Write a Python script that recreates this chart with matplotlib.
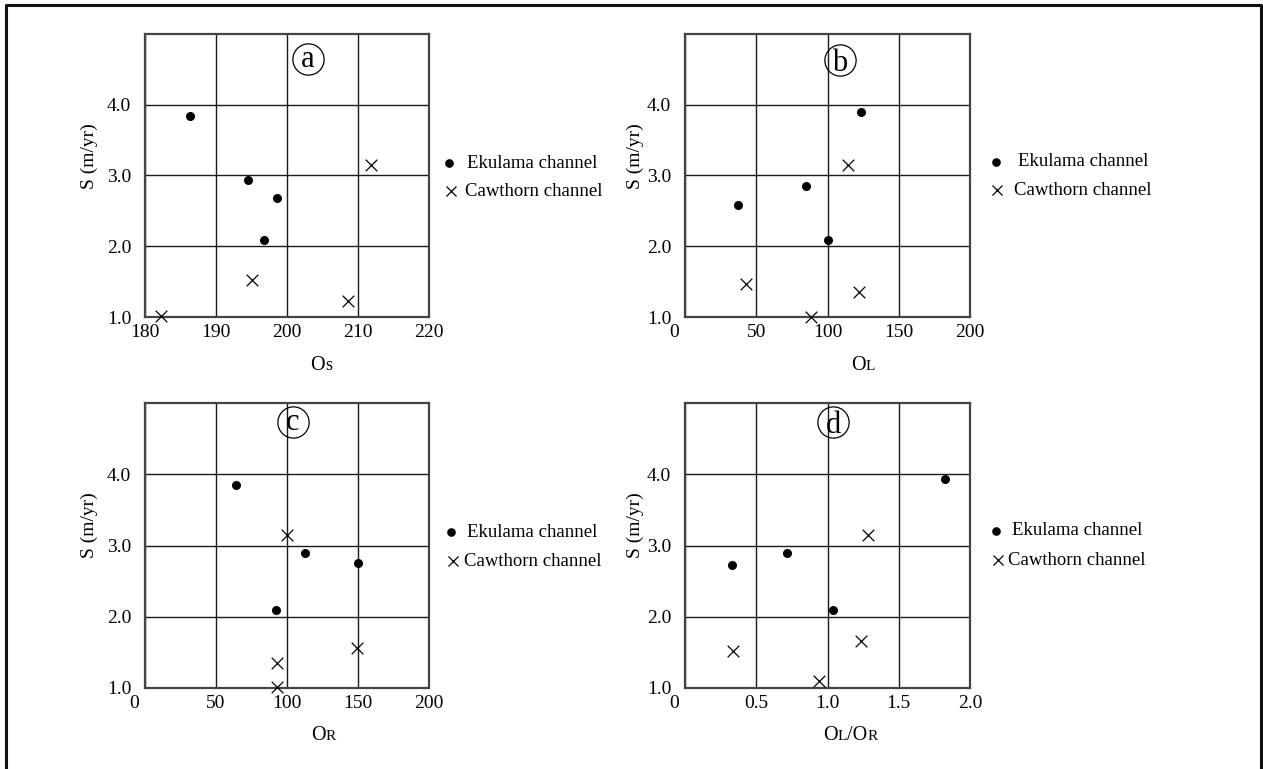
import matplotlib
matplotlib.use("Agg")
import matplotlib.pyplot as plt
from matplotlib.lines import Line2D
from matplotlib.offsetbox import TextArea, HPacker, AnnotationBbox

plt.rcParams['font.family'] = ['Liberation Serif', 'DejaVu Serif']

# ---------------- data ----------------
series_names = ["Ekulama channel", "Cawthorn channel"]

# panel a : S vs Os
a_ek_x = [186.3, 194.5, 198.6, 196.7]
a_ek_y = [3.84, 2.93, 2.68, 2.09]
a_cw_x = [211.9, 195.0, 208.6, 182.2]
a_cw_y = [3.15, 1.53, 1.22, 1.01]

# panel b : S vs OL
b_ek_x = [123.4, 85.1, 37.4, 100.4]
b_ek_y = [3.90, 2.85, 2.59, 2.09]
b_cw_x = [114.3, 42.6, 122.0, 88.2]
b_cw_y = [3.15, 1.47, 1.36, 1.00]

# panel c : S vs OR
c_ek_x = [64.4, 112.4, 150.0, 92.0]
c_ek_y = [3.85, 2.89, 2.75, 2.10]
c_cw_x = [99.7, 149.4, 92.8, 92.8]
c_cw_y = [3.15, 1.56, 1.35, 1.02]

# panel d : S vs OL/OR
d_ek_x = [1.827, 0.715, 0.332, 1.038]
d_ek_y = [3.94, 2.90, 2.73, 2.09]
d_cw_x = [1.282, 1.234, 0.338, 0.939]
d_cw_y = [3.15, 1.66, 1.52, 1.10]

y_ticks = [1.0, 2.0, 3.0, 4.0]
y_tick_labels = ["1.0", "2.0", "3.0", "4.0"]
a_x_ticks = [180, 190, 200, 210, 220]
a_x_labels = ["180", "190", "200", "210", "220"]
bc_x_ticks = [0, 50, 100, 150, 200]
bc_x_labels = ["0    ", "50", "100", "150", "200"]
d_x_ticks = [0, 0.5, 1.0, 1.5, 2.0]
d_x_labels = ["0    ", "0.5", "1.0", "1.5", "2.0"]

panel_letters = ["a", "b", "c", "d"]
y_label = "S (m/yr)"
x_label_parts = [
    [("O", 14.5), ("s", 13)],
    [("O", 14.5), ("L", 11)],
    [("O", 14.5), ("R", 11)],
    [("O", 14.5), ("L", 11), ("/O", 14.5), ("R", 11)],
]

# ---------------- layout ----------------
W, H = 1263, 769
fig = plt.figure(figsize=(W / 100, H / 100), dpi=100)

def rect(left, top, right, bottom):
    return [left / W, 1 - bottom / H, (right - left) / W, (bottom - top) / H]

axes_rects = [rect(145, 34, 429, 317), rect(685, 34, 970, 317),
              rect(145, 403, 429, 688), rect(685, 403, 970, 688)]

panels = [
    (a_ek_x, a_ek_y, a_cw_x, a_cw_y, (180, 220), a_x_ticks, a_x_labels, (202.9, 4.65)),
    (b_ek_x, b_ek_y, b_cw_x, b_cw_y, (0, 200), bc_x_ticks, bc_x_labels, (108.8, 4.63)),
    (c_ek_x, c_ek_y, c_cw_x, c_cw_y, (0, 200), bc_x_ticks, bc_x_labels, (104.2, 4.73)),
    (d_ek_x, d_ek_y, d_cw_x, d_cw_y, (0, 2.0), d_x_ticks, d_x_labels, (1.039, 4.73)),
]
letter_font = 22
# baseline shift (points) so each glyph body sits in the middle of its circle
letter_shift = {"a": -6.0, "b": -7.8, "c": -5.8, "d": -7.6}

# legend geometry (axes fraction): dot, dot-text, cross, cross-text
legend_pos = [
    ((1.070, 0.544), 1.134, (1.077, 0.445), 1.127),
    ((1.091, 0.548), 1.167, (1.095, 0.448), 1.154),
    ((1.077, 0.547), 1.134, (1.085, 0.445), 1.123),
    ((1.091, 0.551), 1.146, (1.098, 0.449), 1.133),
]
xlabel_pos = [(0.62, -0.17), (0.625, -0.17), (0.627, -0.165), (0.58, -0.165)]
ylabel_pos = [(-0.195, 0.57), (-0.175, 0.57), (-0.195, 0.57), (-0.175, 0.57)]

for i, (ex, ey, cx, cy, xlim, xt, xtl, lpos) in enumerate(panels):
    ax = fig.add_axes(axes_rects[i])
    ax.scatter(ex, ey, marker='o', s=30, color='black', zorder=3, clip_on=False)
    ax.scatter(cx, cy, marker='x', s=70, color='black', linewidths=0.9, zorder=3, clip_on=False)
    ax.set_xlim(*xlim)
    ax.set_ylim(1.0, 5.0)
    ax.set_xticks(xt)
    ax.set_xticklabels(xtl)
    ax.set_yticks(y_ticks)
    ax.set_yticklabels(y_tick_labels)
    ax.tick_params(axis='both', length=0, labelsize=14)
    ax.tick_params(axis='y', pad=10)
    ax.tick_params(axis='x', pad=5)
    ax.grid(True, color='#1a1a1a', linewidth=1.0)
    ax.set_axisbelow(True)
    for sp in ax.spines.values():
        sp.set_color('#444444')
        sp.set_linewidth(1.6)

    # circled panel letter (unfilled circle, grid shows through)
    ax.plot([lpos[0]], [lpos[1]], marker='o', ms=22.5, mfc='none', mec='black',
            mew=0.9, ls='none', zorder=4)
    letter = panel_letters[i]
    ax.annotate(letter, (lpos[0], lpos[1]), xytext=(0, letter_shift[letter]),
                textcoords='offset points', fontsize=letter_font,
                ha='center', va='baseline', zorder=5)

    # y label
    ax.text(ylabel_pos[i][0], ylabel_pos[i][1], y_label, transform=ax.transAxes,
            rotation=90, ha='center', va='center', fontsize=14)

    # x label with small trailing letters
    areas = [TextArea(t, textprops=dict(fontsize=s, family='Liberation Serif'))
             for t, s in x_label_parts[i]]
    pack = HPacker(children=areas, align='baseline', pad=0, sep=0)
    ab = AnnotationBbox(pack, xlabel_pos[i], xycoords='axes fraction', frameon=False,
                        box_alignment=(0.5, 0.5), annotation_clip=False)
    ax.add_artist(ab)

    # manual legend
    (dx, dy), dtx, (kx, ky), ktx = legend_pos[i]
    ax.add_line(Line2D([dx], [dy], marker='o', ms=5.2, color='black', ls='none',
                       transform=ax.transAxes, clip_on=False))
    ax.text(dtx, dy, series_names[0], transform=ax.transAxes, fontsize=13.5,
            ha='left', va='center')
    ax.add_line(Line2D([kx], [ky], marker='x', ms=7.5, mew=0.9, color='black', ls='none',
                       transform=ax.transAxes, clip_on=False))
    ax.text(ktx, ky, series_names[1], transform=ax.transAxes, fontsize=13.5,
            ha='left', va='center')

# outer frame (left, top, right)
frame = Line2D([6 / W, 6 / W, 1261 / W, 1261 / W], [0, 1 - 5 / H, 1 - 5 / H, 0],
               transform=fig.transFigure, color='#111111', linewidth=2.2)
fig.add_artist(frame)

fig.savefig("out.png", dpi=100, facecolor='white')
